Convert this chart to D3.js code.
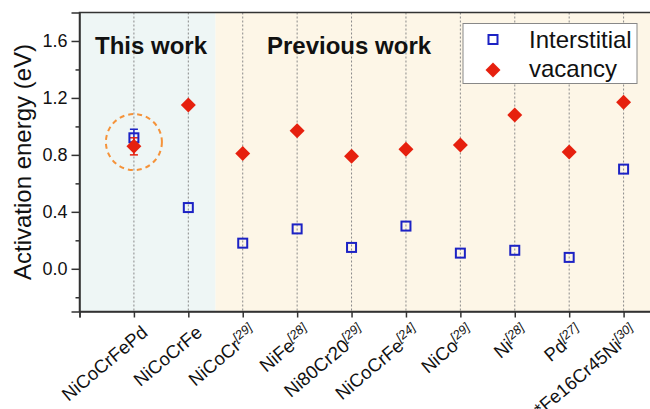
<!DOCTYPE html>
<html>
<head>
<meta charset="utf-8">
<script src="https://cdn.jsdelivr.net/npm/d3@7/dist/d3.min.js"></script>
<style>
  html, body { margin: 0; padding: 0; background: #fff; }
  svg { display: block; font-family: Arial, "Liberation Sans", sans-serif; }
</style>
</head>
<body>
<svg id="chart" width="650" height="409"></svg>
<script>
// Alloy systems along the x axis, with literature references as superscripts
const categories = ["NiCoCrFePd", "NiCoCrFe", "NiCoCr", "NiFe", "Ni80Cr20", "NiCoCrFe", "NiCo", "Ni", "Pd", "*Fe16Cr45Ni"];
const refs = ["", "", "[29]", "[28]", "[29]", "[24]", "[29]", "[28]", "[27]", "[30]"];

// Activation energies (eV)
const interstitial = [0.92, 0.43, 0.18, 0.28, 0.15, 0.30, 0.11, 0.13, 0.08, 0.70];
const vacancy = [0.86, 1.15, 0.81, 0.97, 0.79, 0.84, 0.87, 1.08, 0.82, 1.17];
const interstitialErr = [0.06, null, null, null, null, null, null, null, null, null];
const vacancyErr = [0.06, null, null, null, null, null, null, null, null, null];

const yMajorTicks = [0.0, 0.4, 0.8, 1.2, 1.6];
const yMinorTicks = [-0.2, 0.2, 0.6, 1.0, 1.4];
const groupLabels = ["This work", "Previous work"];
const seriesNames = ["Interstitial", "vacancy"];

const svg = d3.select("#chart");
const plotLeft = 79.5, plotRight = 678, plotTop = 12.5, plotBottom = 311.5;

const x = d3.scaleLinear().domain([0, 11]).range([plotLeft, plotRight]);
const y = d3.scaleLinear().domain([-0.3, 1.8]).range([plotBottom, plotTop]);

const colInter = "#1c22c4";
const colVac = "#e6200e";

// Shaded panels: this work (first two systems) vs previous work
svg.append("rect").attr("x", x(0)).attr("y", y(1.8))
  .attr("width", x(2.5) - x(0)).attr("height", y(-0.3) - y(1.8))
  .attr("fill", "#eef6f5");
svg.append("rect").attr("x", x(2.5)).attr("y", y(1.8))
  .attr("width", x(11) - x(2.5)).attr("height", y(-0.3) - y(1.8))
  .attr("fill", "#fdf6e7");

// Dotted vertical guides at each category
svg.append("g").selectAll("line").data(categories).join("line")
  .attr("x1", (d, i) => x(i + 1)).attr("x2", (d, i) => x(i + 1))
  .attr("y1", y(1.8)).attr("y2", y(-0.3))
  .attr("stroke", "#8a8a8a").attr("stroke-width", 1)
  .attr("stroke-dasharray", "2,2");

// Group headings
svg.append("text").attr("x", 95).attr("y", 54)
  .attr("font-size", 24).attr("font-weight", "bold").attr("fill", "#111")
  .text(groupLabels[0]);
svg.append("text").attr("x", 267).attr("y", 54)
  .attr("font-size", 24).attr("font-weight", "bold").attr("fill", "#111")
  .text(groupLabels[1]);

// Dashed circle highlighting this work's result
svg.append("circle")
  .attr("cx", x(1)).attr("cy", y((interstitial[0] + vacancy[0]) / 2))
  .attr("r", 28)
  .attr("fill", "none").attr("stroke", "#f5933a").attr("stroke-width", 2)
  .attr("stroke-dasharray", "5,4");

// Error bars
function errorBars(vals, errs, color) {
  const g = svg.append("g").attr("stroke", color).attr("stroke-width", 1.5);
  vals.forEach((v, i) => {
    const e = errs[i];
    if (e == null) return;
    const cx = x(i + 1);
    g.append("line").attr("x1", cx).attr("x2", cx).attr("y1", y(v - e)).attr("y2", y(v + e));
    g.append("line").attr("x1", cx - 4).attr("x2", cx + 4).attr("y1", y(v + e)).attr("y2", y(v + e));
    g.append("line").attr("x1", cx - 4).attr("x2", cx + 4).attr("y1", y(v - e)).attr("y2", y(v - e));
  });
}
errorBars(interstitial, interstitialErr, colInter);
errorBars(vacancy, vacancyErr, colVac);

// Interstitial: hollow squares
const sq = 9;
svg.append("g").selectAll("rect").data(interstitial).join("rect")
  .attr("x", (d, i) => x(i + 1) - sq / 2).attr("y", d => y(d) - sq / 2)
  .attr("width", sq).attr("height", sq)
  .attr("fill", "none").attr("stroke", colInter).attr("stroke-width", 2);

// Vacancy: filled diamonds
const diamond = d3.symbol().type(d3.symbolSquare).size(112);
svg.append("g").selectAll("path").data(vacancy).join("path")
  .attr("d", diamond)
  .attr("transform", (d, i) => `translate(${x(i + 1)},${y(d)}) rotate(45)`)
  .attr("fill", colVac);

// Frame
svg.append("rect").attr("x", plotLeft).attr("y", plotTop)
  .attr("width", plotRight - plotLeft).attr("height", plotBottom - plotTop)
  .attr("fill", "none").attr("stroke", "#333").attr("stroke-width", 1.5);

// Y axis
const yAxis = svg.append("g").attr("transform", `translate(${plotLeft},0)`);
yAxis.call(d3.axisLeft(y).tickValues(yMajorTicks).tickSize(8).tickPadding(4)
  .tickFormat(d3.format(".1f")));
yAxis.select(".domain").attr("stroke", "#333").attr("stroke-width", 1.5);
yAxis.selectAll(".tick line").attr("stroke", "#333").attr("stroke-width", 1.5);
yAxis.selectAll(".tick text").attr("font-size", 18).attr("fill", "#111")
  .attr("font-family", "Arial, 'Liberation Sans', sans-serif");
const yMinor = svg.append("g").attr("transform", `translate(${plotLeft},0)`);
yMinor.call(d3.axisLeft(y).tickValues(yMinorTicks).tickSize(4).tickFormat(""));
yMinor.select(".domain").remove();
yMinor.selectAll(".tick line").attr("stroke", "#333").attr("stroke-width", 1.5);

// X axis with ticks only (labels drawn separately)
const xAxis = svg.append("g").attr("transform", `translate(0,${plotBottom})`);
xAxis.call(d3.axisBottom(x).tickValues(d3.range(0, 11)).tickSize(6).tickFormat(""));
xAxis.select(".domain").attr("stroke", "#333").attr("stroke-width", 1.5);
xAxis.selectAll(".tick line").attr("stroke", "#333").attr("stroke-width", 1.5);

// Rotated category labels with superscript references
const labels = svg.append("g").selectAll("text").data(categories).join("text")
  .attr("transform", (d, i) => `translate(${x(i + 1) + 15},${plotBottom + 23}) rotate(-40)`)
  .attr("text-anchor", "end")
  .attr("font-size", 18.5).attr("fill", "#111");
labels.append("tspan").text(d => d);
labels.append("tspan")
  .attr("font-size", 12.5).attr("font-style", "italic").attr("dy", -7.5)
  .text((d, i) => refs[i]);

// Y axis title
svg.append("text")
  .attr("transform", `translate(31,${(plotTop + plotBottom) / 2}) rotate(-90)`)
  .attr("text-anchor", "middle").attr("font-size", 24).attr("fill", "#111")
  .text("Activation energy (eV)");

// Legend
const lg = svg.append("g");
lg.append("rect").attr("x", 463).attr("y", 23.5).attr("width", 174).attr("height", 60)
  .attr("fill", "#fff").attr("stroke", "#888").attr("stroke-width", 1);
lg.append("rect").attr("x", 493 - sq / 2).attr("y", 39.5 - sq / 2)
  .attr("width", sq).attr("height", sq)
  .attr("fill", "none").attr("stroke", colInter).attr("stroke-width", 2);
lg.append("path").attr("d", diamond)
  .attr("transform", "translate(493,70) rotate(45)").attr("fill", colVac);
lg.append("text").attr("x", 529).attr("y", 48).attr("font-size", 24).attr("fill", "#111")
  .text(seriesNames[0]);
lg.append("text").attr("x", 529).attr("y", 77).attr("font-size", 24).attr("fill", "#111")
  .text(seriesNames[1]);
</script>
</body>
</html>
